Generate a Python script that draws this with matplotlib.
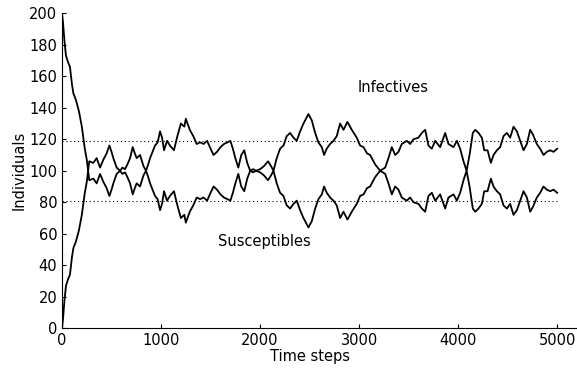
"""
SIS stochastic run: infectives and susceptibles vs time steps
(values read off the scanned figure)
"""

import matplotlib
matplotlib.use("Agg")
import matplotlib.pyplot as plt

# time steps where the curves were read
time_steps = [
    0, 10, 25, 40, 60, 80, 100, 115, 140, 170,
    200, 230, 250, 275, 316, 350, 384, 417, 450, 478,
    500, 518, 552, 586, 610, 636, 660, 687, 714, 735,
    754, 788, 822, 848, 870, 889, 939, 965, 990, 1010,
    1030, 1060, 1090, 1130, 1165, 1200, 1235, 1250, 1290, 1325,
    1360, 1395, 1430, 1465, 1500, 1530, 1565, 1600, 1635, 1670,
    1700, 1725, 1750, 1780, 1810, 1840, 1870, 1900, 1930, 1960,
    2000, 2040, 2080, 2110, 2135, 2168, 2202, 2236, 2269, 2303,
    2337, 2370, 2404, 2438, 2488, 2522, 2556, 2589, 2623, 2646,
    2673, 2707, 2741, 2774, 2808, 2842, 2882, 2926, 2976, 3010,
    3044, 3080, 3111, 3162, 3212, 3263, 3296, 3330, 3364, 3397,
    3431, 3481, 3515, 3549, 3599, 3633, 3667, 3700, 3734, 3768,
    3818, 3869, 3902, 3953, 3987, 4020, 4054, 4085, 4115, 4148,
    4172, 4206, 4239, 4263, 4297, 4330, 4357, 4391, 4424, 4458,
    4492, 4525, 4559, 4593, 4626, 4660, 4694, 4727, 4755, 4794,
    4828, 4862, 4895, 4930, 4963, 5000,
]

infectives = [
    0, 6, 18, 27, 31, 34, 45, 51, 55, 62,
    72, 86, 93, 106, 105, 108, 102, 107, 111, 116,
    112, 108, 102, 100, 102, 101, 104, 108, 115, 111,
    108, 110, 103, 100, 104, 108, 116, 118, 125, 121,
    113, 119, 116, 113, 122, 130, 128, 133, 126, 122,
    117, 118, 117, 119, 114, 110, 112, 115, 117, 118,
    119, 114, 108, 102, 110, 113, 105, 100, 101, 100,
    101, 103, 106, 103, 100, 108, 114, 116, 122, 124,
    121, 119, 125, 130, 136, 132, 124, 118, 115, 110,
    114, 117, 119, 122, 130, 126, 131, 126, 121, 116,
    115, 111, 110, 104, 100, 102, 108, 115, 110, 112,
    117, 119, 117, 120, 121, 124, 126, 116, 114, 119,
    115, 124, 117, 115, 119, 114, 106, 100, 110, 124,
    126, 124, 121, 113, 113, 105, 110, 113, 115, 122,
    124, 121, 128, 125, 119, 113, 117, 126, 123, 117,
    114, 110, 112, 113, 112, 114,
]

susceptibles = [
    200, 194, 182, 173, 169, 166, 155, 149, 145, 138,
    128, 114, 107, 94, 95, 92, 98, 93, 89, 84,
    88, 92, 98, 100, 98, 99, 96, 92, 85, 89,
    92, 90, 97, 100, 96, 92, 84, 82, 75, 79,
    87, 81, 84, 87, 78, 70, 72, 67, 74, 78,
    83, 82, 83, 81, 86, 90, 88, 85, 83, 82,
    81, 86, 92, 98, 90, 87, 95, 100, 99, 100,
    99, 97, 94, 97, 100, 92, 86, 84, 78, 76,
    79, 81, 75, 70, 64, 68, 76, 82, 85, 90,
    86, 83, 81, 78, 70, 74, 69, 74, 79, 84,
    85, 89, 90, 96, 100, 98, 92, 85, 90, 88,
    83, 81, 83, 80, 79, 76, 74, 84, 86, 81,
    85, 76, 83, 85, 81, 86, 94, 100, 90, 76,
    74, 76, 79, 87, 87, 95, 90, 87, 85, 78,
    76, 79, 72, 75, 81, 87, 83, 74, 77, 83,
    86, 90, 88, 87, 88, 86,
]

# equilibrium levels (dotted)
levels = [119, 81]

plt.rcParams['font.family'] = ['DejaVu Sans']
fig = plt.figure(figsize=(5.77, 3.68), dpi=100)
ax = fig.add_axes([0.1075, 0.108, 0.8925, 0.856])

for lv in levels:
    ax.plot([0, 5000], [lv, lv], color='black', linewidth=0.8,
            linestyle=(0, (1, 2.5)))

ax.plot(time_steps, infectives, color='black', linewidth=1.3)
ax.plot(time_steps, susceptibles, color='black', linewidth=1.3)

ax.text(3340, 153, 'Infectives', fontsize=10.5, ha='center', va='center')
ax.text(2040, 55, 'Susceptibles', fontsize=10.5, ha='center', va='center')

ax.set_xlim(0, 5200)
ax.set_ylim(0, 200)
ax.set_xticks([0, 1000, 2000, 3000, 4000, 5000])
ax.set_yticks(range(0, 201, 20))
ax.tick_params(direction='in', length=3, labelsize=10.5, width=0.8)
ax.spines['top'].set_visible(False)
ax.spines['right'].set_visible(False)

ax.set_xlabel('Time steps', fontsize=10.5, labelpad=0)
# label centred on 0..5000 like the original
ax.xaxis.set_label_coords(2500 / 5200, -0.065)
ax.set_ylabel('Individuals', fontsize=10.5, labelpad=2)

fig.savefig('out.png', dpi=100)
